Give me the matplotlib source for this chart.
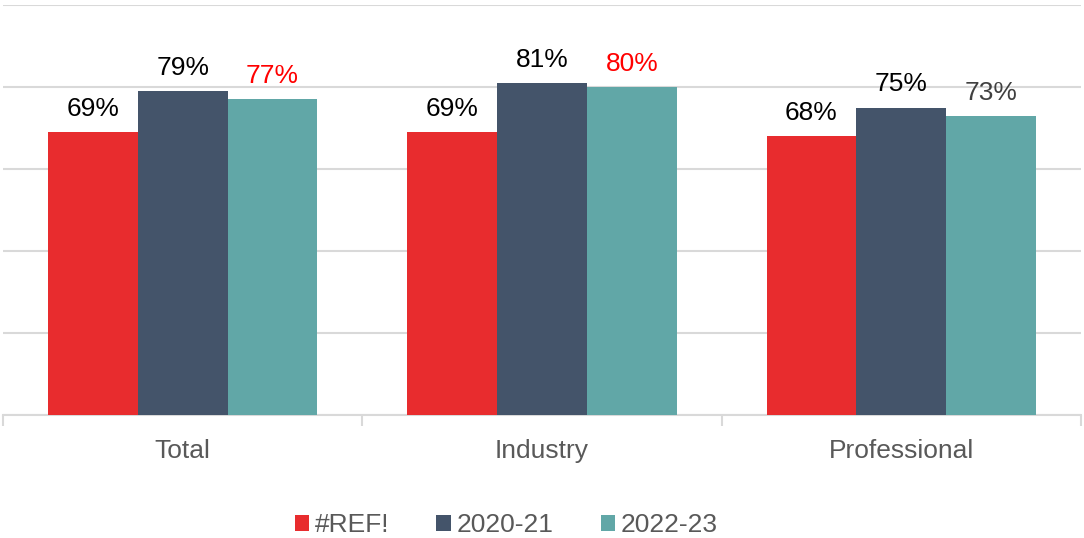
import matplotlib
matplotlib.use("Agg")
import matplotlib.pyplot as plt
import numpy as np

categories = ["Total", "Industry", "Professional"]
series_names = ["#REF!", "2020-21", "2022-23"]
ref_vals = [69, 69, 68]
y2021_vals = [79, 81, 75]
y2023_vals = [77, 80, 73]
label_colors = [
    ["#000000", "#000000", "#000000"],
    ["#000000", "#000000", "#000000"],
    ["#FF0000", "#FF0000", "#404040"],
]

colors = ["#E82C2E", "#44546A", "#61A7A7"]
plt.rcParams["font.family"] = ["Liberation Sans", "DejaVu Sans"]

fig = plt.figure(figsize=(10.84, 5.38), dpi=100)
ax = fig.add_axes([3 / 1084, 123 / 538, 1078 / 1084, 410 / 538])

x = np.arange(len(categories))
width = 0.25
series = [ref_vals, y2021_vals, y2023_vals]
for i, (vals, name, c) in enumerate(zip(series, series_names, colors)):
    pos = x + (i - 1) * width
    bars = ax.bar(pos, vals, width, color=c, label=name, zorder=3)
    for b, v, lc in zip(bars, vals, label_colors[i]):
        ax.annotate(f"{v}%", (b.get_x() + b.get_width() / 2, v),
                    xytext=(0, 8), textcoords="offset points",
                    ha="center", va="bottom", fontsize=19, color=lc)

ax.set_xlim(-0.5, len(categories) - 0.5)
ax.set_ylim(0, 100)
ax.set_yticks(np.arange(0, 101, 20))
ax.yaxis.grid(True, color="#D9D9D9", linewidth=1.5, zorder=0)
ax.tick_params(axis="y", length=0, labelleft=False)

# category labels centred, tick marks on the boundaries between categories
ax.set_xticks(x)
ax.set_xticklabels(categories, fontsize=19, color="#595959")
ax.tick_params(axis="x", which="major", length=0, pad=17)
ax.set_xticks(np.arange(-0.5, len(categories), 1.0), minor=True)
ax.tick_params(axis="x", which="minor", length=8, width=1.5, color="#D9D9D9")

for s in ["top", "right", "left"]:
    ax.spines[s].set_visible(False)
ax.spines["bottom"].set_color("#D9D9D9")
ax.spines["bottom"].set_linewidth(1.5)
ax.set_axisbelow(True)

leg = fig.legend(loc="center", bbox_to_anchor=(506 / 1084, 1 - 525 / 538), ncol=3,
                 frameon=False, fontsize=19, handlelength=0.55, handleheight=0.55,
                 handletextpad=0.2, columnspacing=1.8)
for t in leg.get_texts():
    t.set_color("#595959")

fig.savefig("out.png", dpi=100)
